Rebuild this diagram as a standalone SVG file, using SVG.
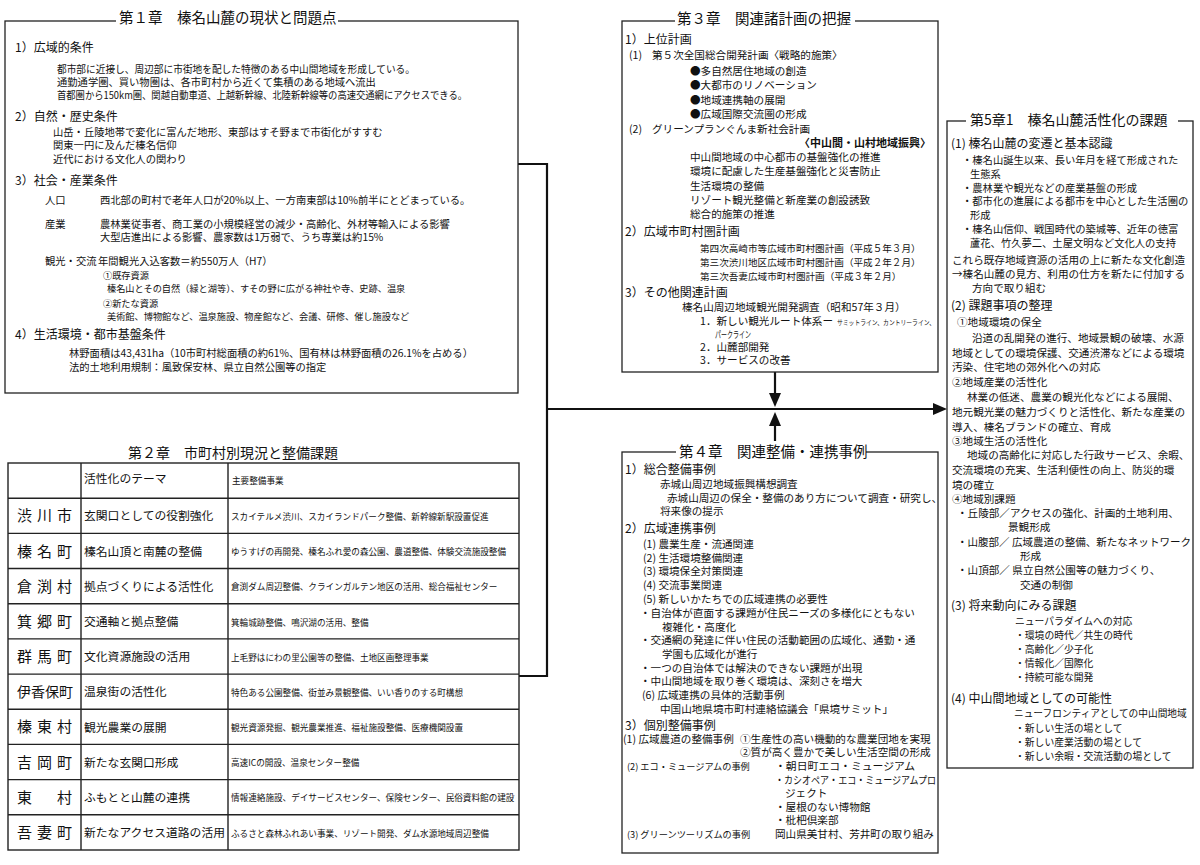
<svg xmlns="http://www.w3.org/2000/svg" width="1200" height="865" viewBox="0 0 1200 865">
<style>
text{font-family:"Noto Sans CJK JP","Noto Sans",sans-serif;fill:#111}
.ttl{font-size:14.5px}
.h{font-size:12px}
.b{font-size:10.3px}
.m{font-size:10.6px}
.s{font-size:9.2px}
.nm{font-size:15px}
.th{font-size:11.8px}
.pj{font-size:8.6px}
.box{fill:none;stroke:#222;stroke-width:1.3}
.tb{fill:none;stroke:#222;stroke-width:1.4}
.con{fill:none;stroke:#111;stroke-width:2.2}
.bg{fill:#fff}
</style>
<defs>
<marker id="ah" markerUnits="userSpaceOnUse" markerWidth="16" markerHeight="14" refX="1" refY="6" orient="auto">
<path d="M0,0 L14,6 L0,12 z" fill="#111"/>
</marker>
</defs>
<rect width="1200" height="865" fill="#fff"/>

<g id="connectors">
<polyline class="con" points="518,164 547,164 547,676 519,676"/>
<line class="con" x1="547" y1="409" x2="934" y2="409" marker-end="url(#ah)"/>
<line class="con" x1="775" y1="372" x2="775" y2="394" marker-end="url(#ah)"/>
<line class="con" x1="775" y1="451" x2="775" y2="425" marker-end="url(#ah)"/>
</g>

<g id="ch1">
<rect class="box" x="5" y="21" width="513" height="372"/>
<rect class="bg" x="116" y="10" width="222" height="20"/>
<text class="ttl" x="119" y="22.5">第１章　榛名山麓の現状と問題点</text>
<text class="h" x="15" y="51.6">1）広域的条件</text>
<text class="b" x="57" y="72.9" textLength="358" lengthAdjust="spacingAndGlyphs">都市部に近接し、周辺部に市街地を配した特徴のある中山間地域を形成している。</text>
<text class="b" x="57" y="85.9">通勤通学圏、買い物圏は、各市町村から近くて集積のある地域へ流出</text>
<text class="b" x="57" y="99.4" textLength="410" lengthAdjust="spacingAndGlyphs">首都圏から150km圏、関越自動車道、上越新幹線、北陸新幹線等の高速交通網にアクセスできる。</text>
<text class="h" x="15" y="121">2）自然・歴史条件</text>
<text class="b" x="53" y="136">山岳・丘陵地帯で変化に富んだ地形、東部はすそ野まで市街化がすすむ</text>
<text class="b" x="53" y="149">関東一円に及んだ榛名信仰</text>
<text class="b" x="53" y="162.5">近代における文化人の関わり</text>
<text class="h" x="15" y="185">3）社会・産業条件</text>
<text class="b" x="45" y="203.9">人口</text>
<text class="b" x="100" y="203.9">西北部の町村で老年人口が20%以上、一方南東部は10%前半にとどまっている。</text>
<text class="b" x="45" y="227.9">産業</text>
<text class="b" x="100" y="227.9">農林業従事者、商工業の小規模経営の減少・高齢化、外材等輸入による影響</text>
<text class="b" x="100" y="240.9">大型店進出による影響、農家数は1万弱で、うち専業は約15%</text>
<text class="b" x="45" y="265.4">観光・交流</text>
<text class="b" x="98" y="265.4">年間観光入込客数＝約550万人（H7）</text>
<text class="s" x="103" y="279">①既存資源</text>
<text class="s" x="107" y="292">榛名山とその自然（緑と湖等）、すその野に広がる神社や寺、史跡、温泉</text>
<text class="s" x="103" y="306.5">②新たな資源</text>
<text class="s" x="107" y="319.5">美術館、博物館など、温泉施設、物産館など、会議、研修、催し施設など</text>
<text class="h" x="15" y="338.6">4）生活環境・都市基盤条件</text>
<text class="b" x="69" y="356.9">林野面積は43,431ha（10市町村総面積の約61%、国有林は林野面積の26.1%を占める）</text>
<text class="b" x="69" y="370.9">法的土地利用規制：風致保安林、県立自然公園等の指定</text>
</g>

<g id="ch2">
<text class="ttl" x="128" y="458.3" style="font-size:14px">第２章　市町村別現況と整備課題</text>
<rect class="tb" x="8" y="463" width="511" height="387"/>
<path class="tb" d="M81,463V850M228,463V850M8,498.2H519M8,533.4H519M8,568.5H519M8,603.7H519M8,638.9H519M8,674.1H519M8,709.3H519M8,744.4H519M8,779.6H519M8,814.8H519"/>
<text class="th" x="84" y="483">活性化のテーマ</text>
<text class="pj" x="232" y="484">主要整備事業</text>

<text class="nm" x="17 37 57" y="521.3">渋川市</text>
<text class="th" x="84" y="520.4">玄関口としての役割強化</text>
<text class="pj" x="231" y="520">スカイテルメ渋川、スカイランドパーク整備、新幹線新駅設置促進</text>

<text class="nm" x="17 37 57" y="556.5">榛名町</text>
<text class="th" x="84" y="555.6">榛名山頂と南麓の整備</text>
<text class="pj" x="231" y="555.2">ゆうすげの再開発、榛名ふれ愛の森公園、農道整備、体験交流施設整備</text>

<text class="nm" x="17 37 57" y="591.6">倉渕村</text>
<text class="th" x="84" y="590.7">拠点づくりによる活性化</text>
<text class="pj" x="231" y="590.3">倉渕ダム周辺整備、クラインガルテン地区の活用、総合福祉センター</text>

<text class="nm" x="17 37 57" y="626.8">箕郷町</text>
<text class="th" x="84" y="625.9">交通軸と拠点整備</text>
<text class="pj" x="231" y="625.5">箕輪城跡整備、鳴沢湖の活用、整備</text>

<text class="nm" x="17 37 57" y="662">群馬町</text>
<text class="th" x="84" y="661.1">文化資源施設の活用</text>
<text class="pj" x="231" y="660.7">上毛野はにわの里公園等の整備、土地区画整理事業</text>

<text class="nm" x="17" y="697.2" style="font-size:14px">伊香保町</text>
<text class="th" x="84" y="696.3">温泉街の活性化</text>
<text class="pj" x="231" y="695.9">特色ある公園整備、街並み景観整備、いい香りのする町構想</text>

<text class="nm" x="17 37 57" y="732.4">榛東村</text>
<text class="th" x="84" y="731.5">観光農業の展開</text>
<text class="pj" x="231" y="731.1">観光資源発掘、観光農業推進、福祉施設整備、医療機関設置</text>

<text class="nm" x="17 37 57" y="767.5">吉岡町</text>
<text class="th" x="84" y="766.6">新たな玄関口形成</text>
<text class="pj" x="231" y="766.2">高速ICの開設、温泉センター整備</text>

<text class="nm" x="17 57" y="802.7">東村</text>
<text class="th" x="84" y="801.8">ふもとと山麓の連携</text>
<text class="pj" x="231" y="801.4">情報連絡施設、デイサービスセンター、保険センター、民俗資料館の建設</text>

<text class="nm" x="17 37 57" y="837.9">吾妻町</text>
<text class="th" x="84" y="837">新たなアクセス道路の活用</text>
<text class="pj" x="231" y="836.6">ふるさと森林ふれあい事業、リゾート開発、ダム水源地域周辺整備</text>
</g>

<g id="ch3">
<rect class="box" x="622" y="21" width="316" height="351"/>
<rect class="bg" x="675" y="10" width="180" height="20"/>
<text class="ttl" x="677" y="23.5">第３章　関連諸計画の把握</text>
<text class="h" x="625" y="43.6">1）上位計画</text>
<text class="m" x="629" y="59.2">(1)</text>
<text class="m" x="652" y="59.2">第５次全国総合開発計画〈戦略的施策〉</text>
<text class="m" x="690" y="75">●多自然居住地域の創造</text>
<text class="m" x="690" y="89">●大都市のリノベーション</text>
<text class="m" x="690" y="104">●地域連携軸の展開</text>
<text class="m" x="690" y="118">●広域国際交流圏の形成</text>
<text class="m" x="629" y="133.2">(2)</text>
<text class="m" x="652" y="133.2">グリーンプランぐんま新社会計画</text>
<text class="m" x="931" y="147.2" text-anchor="end" style="font-size:11px;font-weight:bold">〈中山間・山村地域振興〉</text>
<text class="m" x="690" y="161">中山間地域の中心都市の基盤強化の推進</text>
<text class="m" x="690" y="175">環境に配慮した生産基盤強化と災害防止</text>
<text class="m" x="690" y="190">生活環境の整備</text>
<text class="m" x="690" y="204">リゾート観光整備と新産業の創設誘致</text>
<text class="m" x="690" y="218">総合的施策の推進</text>
<text class="h" x="625" y="235.6">2）広域市町村圏計画</text>
<text class="b" x="700" y="252" style="font-size:9.6px">第四次高崎市等広域市町村圏計画（平成５年３月）</text>
<text class="b" x="700" y="266" style="font-size:9.6px">第三次渋川地区広域市町村圏計画（平成２年２月）</text>
<text class="b" x="700" y="280" style="font-size:9.6px">第三次吾妻広域市町村圏計画（平成３年２月）</text>
<text class="h" x="625" y="296.6">3）その他関連計画</text>
<text class="m" x="682" y="311">榛名山周辺地域観光開発調査（昭和57年３月）</text>
<text class="m" x="700" y="325">1．新しい観光ルート体系ー</text>
<text class="s" x="837" y="325" style="font-size:6.9px" textLength="98" lengthAdjust="spacingAndGlyphs">サミットライン、カントリーライン、</text>
<text class="s" x="715" y="337.5" textLength="36" lengthAdjust="spacingAndGlyphs">パークライン</text>
<text class="m" x="700" y="351">2．山麓部開発</text>
<text class="m" x="700" y="364">3．サービスの改善</text>
</g>

<g id="ch4">
<rect class="box" x="622" y="452" width="316" height="401"/>
<rect class="bg" x="676" y="441" width="190" height="20"/>
<text class="ttl" x="679" y="456.5">第４章　関連整備・連携事例</text>
<text class="h" x="625" y="473.6">1）総合整備事例</text>
<text class="m" x="660" y="488">赤城山周辺地域振興構想調査</text>
<text class="m" x="667" y="502">赤城山周辺の保全・整備のあり方について調査・研究し、</text>
<text class="m" x="660" y="515">将来像の提示</text>
<text class="h" x="625" y="532.6">2）広域連携事例</text>
<text class="m" x="643" y="548">(1) 農業生産・流通関連</text>
<text class="m" x="643" y="561.5">(2) 生活環境整備関連</text>
<text class="m" x="643" y="575">(3) 環境保全対策関連</text>
<text class="m" x="643" y="589">(4) 交流事業関連</text>
<text class="m" x="643" y="603">(5) 新しいかたちでの広域連携の必要性</text>
<text class="m" x="640" y="617">・自治体が直面する課題が住民ニーズの多様化にともない</text>
<text class="m" x="662" y="631">複雑化・高度化</text>
<text class="m" x="640" y="644">・交通網の発達に伴い住民の活動範囲の広域化、通勤・通</text>
<text class="m" x="662" y="658">学園も広域化が進行</text>
<text class="m" x="640" y="672">・一つの自治体では解決のできない課題が出現</text>
<text class="m" x="640" y="685">・中山間地域を取り巻く環境は、深刻さを増大</text>
<text class="m" x="642" y="699">(6) 広域連携の具体的活動事例</text>
<text class="m" x="660" y="713">中国山地県境市町村連絡協議会「県境サミット」</text>
<text class="h" x="625" y="729.6">3）個別整備事例</text>
<text class="m" x="623" y="743">(1) 広域農道の整備事例</text>
<text class="m" x="740" y="743">①生産性の高い機動的な農業団地を実現</text>
<text class="m" x="740" y="756">②質が高く豊かで美しい生活空間の形成</text>
<text class="s" x="627" y="770">(2) エコ・ミュージアムの事例</text>
<text class="m" x="775" y="770" textLength="140" lengthAdjust="spacingAndGlyphs">・朝日町エコ・ミュージアム</text>
<text class="m" x="775" y="784" textLength="161" lengthAdjust="spacingAndGlyphs">・カシオペア・エコ・ミュージアムプロ</text>
<text class="m" x="785" y="797">ジェクト</text>
<text class="m" x="775" y="811">・屋根のない博物館</text>
<text class="m" x="775" y="824">・枇杷倶楽部</text>
<text class="s" x="627" y="838">(3) グリーンツーリズムの事例</text>
<text class="m" x="775" y="838">岡山県美甘村、芳井町の取り組み</text>
</g>

<g id="ch5">
<rect class="box" x="947" y="121" width="246" height="647"/>
<rect class="bg" x="966" y="110" width="212" height="20"/>
<text class="ttl" x="970" y="124.5" style="font-size:14px">第5章1　榛名山麓活性化の課題</text>
<text class="h" x="951" y="147.5">(1) 榛名山麓の変遷と基本認識</text>
<text class="b" x="962" y="163.5">・榛名山誕生以来、長い年月を経て形成された</text>
<text class="b" x="970" y="177.5">生態系</text>
<text class="b" x="962" y="191.5">・農林業や観光などの産業基盤の形成</text>
<text class="b" x="962" y="205">・都市化の進展による都市を中心とした生活圏の</text>
<text class="b" x="970" y="218.5">形成</text>
<text class="b" x="962" y="233">・榛名山信仰、戦国時代の築城等、近年の徳富</text>
<text class="b" x="970" y="247">蘆花、竹久夢二、土屋文明など文化人の支持</text>
<text class="m" x="952" y="264">これら既存地域資源の活用の上に新たな文化創造</text>
<text class="m" x="952" y="278">→榛名山麓の見方、利用の仕方を新たに付加する</text>
<text class="m" x="972" y="292">方向で取り組む</text>
<text class="h" x="951" y="310">(2) 課題事項の整理</text>
<text class="m" x="957" y="326">①地域環境の保全</text>
<text class="m" x="972" y="342">沿道の乱開発の進行、地域景観の破壊、水源</text>
<text class="m" x="952" y="356.5">地域としての環境保護、交通渋滞などによる環境</text>
<text class="m" x="952" y="371">汚染、住宅地の郊外化への対応</text>
<text class="m" x="952" y="385.5">②地域産業の活性化</text>
<text class="m" x="967" y="401">林業の低迷、農業の観光化などによる展開、</text>
<text class="m" x="952" y="416">地元観光業の魅力づくりと活性化、新たな産業の</text>
<text class="m" x="952" y="431">導入、榛名ブランドの確立、育成</text>
<text class="m" x="952" y="445">③地域生活の活性化</text>
<text class="m" x="967" y="459">地域の高齢化に対応した行政サービス、余暇、</text>
<text class="m" x="952" y="474">交流環境の充実、生活利便性の向上、防災的環</text>
<text class="m" x="952" y="489">境の確立</text>
<text class="m" x="952" y="503">④地域別課題</text>
<text class="m" x="957" y="517">・丘陵部／アクセスの強化、計画的土地利用、</text>
<text class="m" x="1008" y="531">景観形成</text>
<text class="m" x="957" y="546" textLength="234" lengthAdjust="spacingAndGlyphs">・山腹部／ 広域農道の整備、新たなネットワーク</text>
<text class="m" x="1020" y="560">形成</text>
<text class="m" x="957" y="574">・山頂部／ 県立自然公園等の魅力づくり、</text>
<text class="m" x="1020" y="589">交通の制御</text>
<text class="h" x="951" y="609.6">(3) 将来動向にみる課題</text>
<text class="b" x="1015" y="624.5" style="font-size:9.8px">ニューパラダイムへの対応</text>
<text class="b" x="1015" y="638.5" style="font-size:9.8px">・環境の時代／共生の時代</text>
<text class="b" x="1015" y="652.5" style="font-size:9.8px">・高齢化／少子化</text>
<text class="b" x="1015" y="666.5" style="font-size:9.8px">・情報化／国際化</text>
<text class="b" x="1015" y="681" style="font-size:9.8px">・持続可能な開発</text>
<text class="h" x="951" y="702.6">(4) 中山間地域としての可能性</text>
<text class="b" x="1014" y="717" style="font-size:9.7px">ニューフロンティアとしての中山間地域</text>
<text class="b" x="1015" y="731.5" style="font-size:9.8px">・新しい生活の場として</text>
<text class="b" x="1015" y="745.5" style="font-size:9.8px">・新しい産業活動の場として</text>
<text class="b" x="1015" y="759.5" style="font-size:9.8px">・新しい余暇・交流活動の場として</text>
</g>
</svg>
